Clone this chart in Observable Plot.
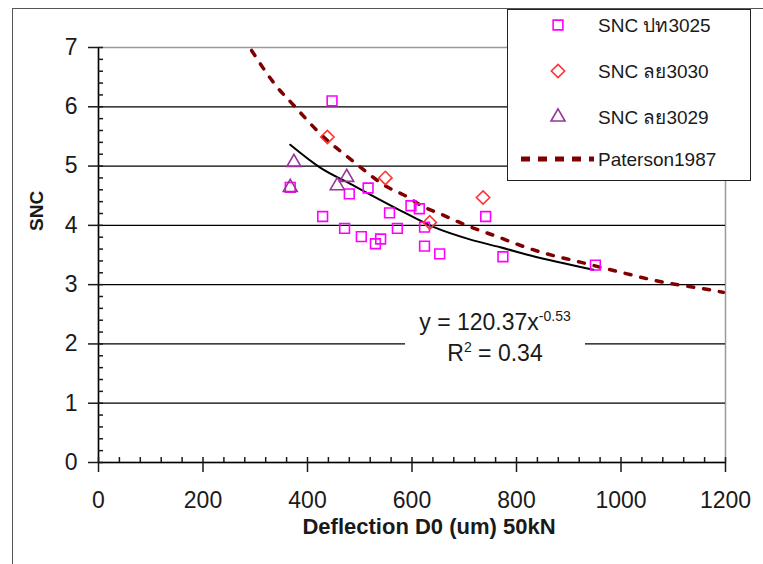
<!DOCTYPE html>
<html>
<head>
<meta charset="utf-8">
<script src="https://cdn.jsdelivr.net/npm/d3@7"></script>
<script src="https://cdn.jsdelivr.net/npm/@observablehq/plot@0.6"></script>
<style>
  html, body { margin: 0; padding: 0; background: #fff; }
  #wrap { position: relative; width: 763px; height: 564px; overflow: hidden; background: #fff;
          font-family: "Liberation Sans", Arial, "DejaVu Sans", sans-serif; }
  #outer { position: absolute; left: 12px; top: 8px; width: 900px; height: 700px;
           border-left: 1.5px solid #555; border-top: 1.5px solid #555; }
  #chart { position: absolute; left: 0; top: 0; }
  #eq { position: absolute; left: 405px; top: 307px; width: 180px; height: 66px; background: #fff;
        text-align: center; font-size: 23px; color: #1a1a1a; line-height: 31px; }
  #eq sup { font-size: 14px; vertical-align: 9px; line-height: 0; }
  #legend { position: absolute; left: 507px; top: 9px; width: 242px; height: 170px;
            border: 1.5px solid #222; background: #fff; }
</style>
</head>
<body>
<div id="wrap">
  <div id="outer"></div>
  <div id="chart"></div>
  <div id="eq">y = 120.37x<sup>-0.53</sup><br>R<sup>2</sup> = 0.34</div>
  <div id="legend"></div>
</div>
<script>
// ---- data ----
const seriesNames = ["SNC ปท3025", "SNC ลย3030", "SNC ลย3029", "Paterson1987"];

const deflPT3025 = [447, 516, 480, 429, 471, 503, 530, 540, 557, 572, 598, 614, 624, 624, 653, 741, 774, 951, 367];
const sncPT3025  = [6.10, 4.63, 4.53, 4.15, 3.95, 3.81, 3.69, 3.77, 4.21, 3.95, 4.33, 4.28, 3.97, 3.65, 3.52, 4.15, 3.47, 3.33, 4.64];

const deflLY3030 = [438, 549, 634, 736];
const sncLY3030  = [5.49, 4.80, 4.05, 4.47];

const deflLY3029 = [374, 367, 475, 457];
const sncLY3029  = [5.06, 4.64, 4.81, 4.67];

const trendX = [367, 425, 482, 578, 642, 712, 769, 827, 947];
const trendY = [5.36, 4.97, 4.70, 4.25, 3.97, 3.76, 3.63, 3.49, 3.25];

const patersonX = [293, 342, 371, 425, 489, 552, 587, 623, 655, 696, 769, 808, 846, 922, 999, 1081, 1158, 1196];
const patersonY = [6.95, 6.33, 6.05, 5.54, 5.07, 4.65, 4.50, 4.31, 4.19, 4.03, 3.79, 3.66, 3.55, 3.38, 3.21, 3.04, 2.93, 2.87];

const xMajorTicks = [0, 200, 400, 600, 800, 1000, 1200];
const yMajorTicks = [0, 1, 2, 3, 4, 5, 6, 7];
const yGridBlack  = [1, 2, 3, 4, 5, 6];
const xMinorStep = 40, yMinorStep = 0.2;

const xTitle = "Deflection D0 (um) 50kN";
const yTitle = "SNC";

// ---- tables ----
const zip = (xs, ys) => xs.map((x, i) => ({x, y: ys[i]}));
const pt3025 = zip(deflPT3025, sncPT3025);
const ly3030 = zip(deflLY3030, sncLY3030);
const ly3029 = zip(deflLY3029, sncLY3029);
const trend = zip(trendX, trendY);
const paterson = zip(patersonX, patersonY);
const xMinor = d3.range(0, 1200 + 1e-9, xMinorStep);
const yMinor = d3.range(0, 7 + 1e-9, yMinorStep).map(v => +v.toFixed(2));

const colors = { pt3025: "#ff00ff", ly3030: "#ff3333", ly3029: "#993399", paterson: "#800000" };

const chart = Plot.plot({
  width: 763,
  height: 564,
  marginLeft: 98,
  marginRight: 38,
  marginTop: 47,
  marginBottom: 102,
  style: { fontFamily: '"Liberation Sans", Arial, sans-serif', color: "#1a1a1a", background: "transparent", overflow: "visible" },
  x: { domain: [0, 1200] },
  y: { domain: [0, 7] },
  marks: [
    Plot.frame({ stroke: "#9a9a9a", strokeWidth: 1.5 }),
    Plot.ruleY(yGridBlack, { stroke: "#000", strokeWidth: 1.3 }),
    Plot.ruleY([0], { stroke: "#000", strokeWidth: 1.5 }),
    Plot.ruleX([0], { stroke: "#000", strokeWidth: 1.5 }),
    // axes: major ticks crossing axis, minor ticks inward
    Plot.axisX({ ticks: xMajorTicks, tickSize: 10, tickPadding: 19, fontSize: 23, tickFormat: d => String(d), label: null, strokeWidth: 1.5 }),
    Plot.axisX({ ticks: xMinor, tickSize: -5, tickFormat: () => "", label: null, strokeWidth: 1.5 }),
    Plot.axisY({ ticks: yMajorTicks, tickSize: 10, tickPadding: 11, fontSize: 23, tickFormat: d => String(d), label: null, strokeWidth: 1.5 }),
    Plot.axisY({ ticks: yMinor, tickSize: -5, tickFormat: () => "", label: null, strokeWidth: 1.5 }),
    Plot.text([xTitle], { frameAnchor: "bottom", text: d => d, dx: 17, dy: 64, lineAnchor: "middle", fontSize: 22, fontWeight: "bold", fill: "#1a1a1a" }),
    Plot.text([yTitle], { frameAnchor: "left", text: d => d, dx: -62, dy: -24, rotate: -90, lineAnchor: "middle", fontSize: 19, fontWeight: "bold", fill: "#1a1a1a" }),
    // Paterson curve
    Plot.line(paterson, { x: "x", y: "y", curve: "monotone-x", stroke: colors.paterson, strokeWidth: 3.5, strokeDasharray: "6,10" }),
    // power trend line
    Plot.line(trend, { x: "x", y: "y", curve: "monotone-x", stroke: "#000", strokeWidth: 2 }),
    // observations
    Plot.dot(pt3025, { x: "x", y: "y", symbol: "square2", r: 6.2, stroke: colors.pt3025, strokeWidth: 1.6, fill: "none" }),
    Plot.dot(ly3030, { x: "x", y: "y", symbol: "diamond2", r: 6, stroke: colors.ly3030, strokeWidth: 1.6, fill: "none" }),
    Plot.dot(ly3029, { x: "x", y: "y", symbol: "triangle2", r: 6.7, stroke: colors.ly3029, strokeWidth: 1.6, fill: "none" })
  ]
});
document.getElementById("chart").appendChild(chart);

// ---- legend ----
const leg = d3.select("#legend").append("svg").attr("width", 242).attr("height", 170)
  .style("font-family", '"Liberation Sans", Arial, sans-serif');
const rows = [
  { name: seriesNames[0], sym: d3.symbolSquare2, r: 6.2, color: colors.pt3025 },
  { name: seriesNames[1], sym: d3.symbolDiamond2, r: 6, color: colors.ly3030 },
  { name: seriesNames[2], sym: d3.symbolTriangle2, r: 6.7, color: colors.ly3029 },
  { name: seriesNames[3], line: true, color: colors.paterson }
];
const rowY = [15, 61, 107, 149];
rows.forEach((row, i) => {
  const g = leg.append("g").attr("transform", `translate(0,${rowY[i]})`);
  if (row.line) {
    g.append("line").attr("x1", 13).attr("x2", 86).attr("y1", 0).attr("y2", 0)
      .attr("stroke", row.color).attr("stroke-width", 5).attr("stroke-dasharray", "9,8");
  } else {
    g.append("path").attr("transform", "translate(50,0)")
      .attr("d", d3.symbol(row.sym, Math.PI * row.r * row.r)())
      .attr("fill", "none").attr("stroke", row.color).attr("stroke-width", 1.6);
  }
  g.append("text").attr("x", 90).attr("y", 0).attr("dy", "0.35em")
    .attr("font-size", 19).attr("fill", "#1a1a1a").text(row.name);
});
</script>
</body>
</html>
